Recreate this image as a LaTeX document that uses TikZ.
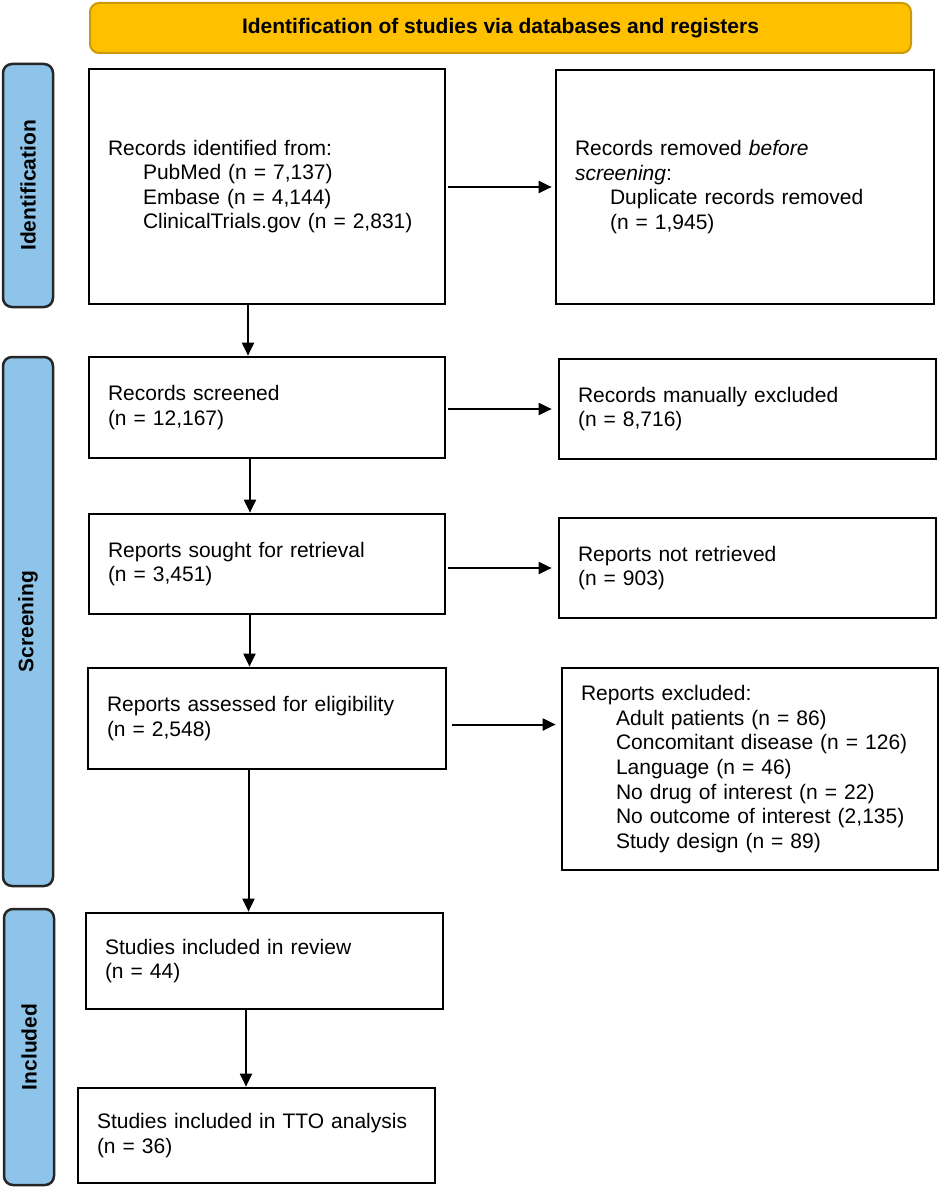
\documentclass[tikz,border=0pt]{standalone}
\usepackage{fontspec}
\setmainfont{Liberation Sans}
\usetikzlibrary{arrows.meta}
\newcommand\myfont{\fontsize{21}{24.6}\selectfont}
\newcommand\ind{\hspace*{35pt}}
\definecolor{hdrfill}{HTML}{FFC000}
\definecolor{hdrline}{HTML}{CC9A06}
\definecolor{sidefill}{HTML}{8EC4EA}
\begin{document}
\begin{tikzpicture}[x=1pt,y=-1pt,
  box/.style={draw, line width=2.7pt, rectangle, inner xsep=19pt, inner ysep=0pt, align=left, font=\myfont, fill=white},
  sidebar/.style={draw=black!85, line width=2.5pt, fill=sidefill, rounded corners=9pt, rectangle, inner sep=0pt},
  sidetext/.style={font=\myfont\bfseries, rotate=90},
  arr/.style={line width=2pt, -{Triangle[length=13pt,width=12pt]}}
]
\useasboundingbox (0,0) rectangle (941,1188);

% header
\node[draw=hdrline, line width=2pt, fill=hdrfill, rounded corners=9pt, minimum width=821pt, minimum height=50pt, font=\myfont\bfseries, inner sep=0pt] (hdr) at (500.5,28) {Identification of studies via databases and registers};

% sidebars
\node[sidebar, minimum width=50pt, minimum height=243pt] (s1) at (28,185.5) {};
\node[sidetext] (s1t) at (s1.center) {Identification};
\node[sidebar, minimum width=50pt, minimum height=529pt] (s2) at (28,621.5) {};
\node[sidetext] (s2t) at (s2.center) {Screening};
\node[sidebar, minimum width=50pt, minimum height=276pt] (s3) at (29,1047) {};
\node[sidetext] (s3t) at (s3.center) {Included};

% left column
\node[box, text width=318pt, minimum height=235pt] (b1) at (267,186.5)
  {Records identified from:\\ \ind PubMed (n = 7,137)\\ \ind Embase (n = 4,144)\\ \ind ClinicalTrials.gov (n = 2,831)};
\node[box, text width=318pt, minimum height=101pt] (b2) at (267,407.5)
  {Records screened\\(n = 12,167)};
\node[box, text width=318pt, minimum height=100pt] (b3) at (267,564)
  {Reports sought for retrieval\\(n = 3,451)};
\node[box, text width=320pt, minimum height=101pt] (b4) at (267,718.5)
  {Reports assessed for eligibility\\(n = 2,548)};
\node[box, text width=319pt, minimum height=96pt] (b5) at (264.5,961)
  {Studies included in review\\(n = 44)};
\node[box, text width=319pt, minimum height=95pt] (b6) at (256.5,1135.5)
  {Studies included in TTO analysis\\(n = 36)};

% right column
\node[box, text width=340pt, minimum height=234pt] (r1) at (745,187)
  {Records removed \textit{before}\\ \textit{screening}:\\ \ind Duplicate records removed\\ \ind (n = 1,945)};
\node[box, text width=339pt, minimum height=100pt] (r2) at (747.5,409)
  {Records manually excluded\\(n = 8,716)};
\node[box, text width=339pt, minimum height=100pt] (r3) at (747.5,568)
  {Reports not retrieved\\(n = 903)};
\node[box, text width=338pt, minimum height=202pt] (r4) at (750,769)
  {Reports excluded:\\ \ind Adult patients (n = 86)\\ \ind Concomitant disease (n = 126)\\ \ind Language (n = 46)\\ \ind No drug of interest (n = 22)\\ \ind No outcome of interest (2,135)\\ \ind Study design (n = 89)};

% column positions for vertical arrows
\coordinate (c1) at (248,0);
\coordinate (c2) at (250,0);
\coordinate (c3) at (249.5,0);
\coordinate (c4) at (248.5,0);
\coordinate (c5) at (246,0);
\coordinate (h4) at (0,724.5);

% vertical arrows
\draw[arr] (b1.south -| c1) -- (b2.north -| c1);
\draw[arr] (b2.south -| c2) -- (b3.north -| c2);
\draw[arr] (b3.south -| c3) -- (b4.north -| c3);
\draw[arr] (b4.south -| c4) -- (b5.north -| c4);
\draw[arr] (b5.south -| c5) -- (b6.north -| c5);

% horizontal arrows
\draw[arr, shorten <=2pt, shorten >=3pt] (b1.east |- r1.west) -- (r1.west);
\draw[arr, shorten <=2pt, shorten >=6pt] (b2.east |- r2.west) -- (r2.west);
\draw[arr, shorten <=2pt, shorten >=6pt] (b3.east |- r3.west) -- (r3.west);
\draw[arr, shorten <=5pt, shorten >=5pt] (b4.east |- h4) -- (r4.west |- h4);
\end{tikzpicture}
\end{document}
